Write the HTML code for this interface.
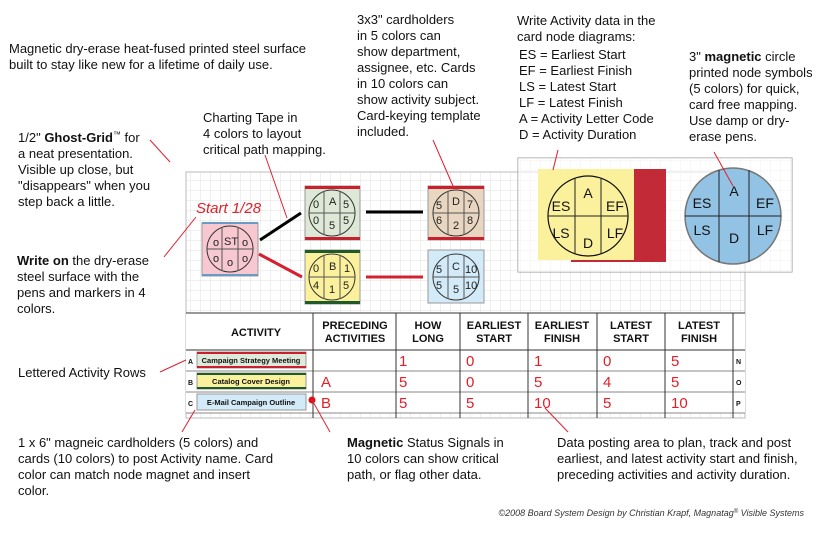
<!DOCTYPE html>
<html><head><meta charset="utf-8"><style>
body{margin:0;background:#fff;}
svg{display:block;font-family:"Liberation Sans",Arial,sans-serif;}
.t{font-size:13px;fill:#111;}
.h{font-family:"Liberation Sans",sans-serif;font-size:15px;fill:#e0202a;}
.n{font-size:11px;fill:#222;}
.hd{font-size:11px;font-weight:bold;fill:#111;}
.rl{stroke:#e02030;stroke-width:1;}
</style></head><body>
<svg width="825" height="540" viewBox="0 0 825 540" xmlns="http://www.w3.org/2000/svg">
<defs>
<pattern id="g" width="10" height="10" patternUnits="userSpaceOnUse">
<path d="M10 0H0V10" fill="none" stroke="#e2e2e2" stroke-width="1"/>
</pattern>
</defs>
<rect x="186" y="172" width="559" height="246" fill="url(#g)" stroke="#bbb"/>
<line x1="260" y1="240" x2="301" y2="213" stroke="#000" stroke-width="3"/>
<line x1="259" y1="254" x2="302" y2="277" stroke="#d52030" stroke-width="3"/>
<line x1="366" y1="212" x2="423" y2="212" stroke="#000" stroke-width="3"/>
<line x1="366" y1="277" x2="423" y2="277" stroke="#d52030" stroke-width="3"/>
<g>
<rect x="202" y="223" width="56" height="53" fill="#f7c8d0" stroke="#999"/>
<rect x="202" y="222" width="56" height="2" fill="#6a9ac8"/><rect x="202" y="274" width="56" height="2" fill="#6a9ac8"/>
<circle cx="230" cy="249" r="23" fill="none" stroke="#333"/>
<line x1="207" y1="249" x2="253" y2="249" stroke="#555"/><line x1="222" y1="227" x2="222" y2="271" stroke="#555"/><line x1="238" y1="227" x2="238" y2="271" stroke="#555"/>
<text class="n" x="224" y="245">ST</text><text class="n" x="213" y="246">o</text><text class="n" x="242" y="246">o</text><text class="n" x="213" y="262">o</text><text class="n" x="227" y="266">o</text><text class="n" x="242" y="262">o</text>
</g>
<g>
<rect x="305" y="186" width="55" height="54" fill="#dde8d6" stroke="#999"/>
<rect x="305" y="186" width="55" height="3" fill="#c8202c"/><rect x="305" y="237" width="55" height="3" fill="#c8202c"/>
<circle cx="332" cy="213" r="23" fill="none" stroke="#333"/>
<line x1="309" y1="213" x2="355" y2="213" stroke="#555"/><line x1="324" y1="191" x2="324" y2="235" stroke="#555"/><line x1="340" y1="191" x2="340" y2="235" stroke="#555"/>
<text class="n" x="329" y="205">A</text><text class="n" x="313" y="208">0</text><text class="n" x="343" y="208">5</text><text class="n" x="313" y="224">0</text><text class="n" x="329" y="229">5</text><text class="n" x="343" y="224">5</text>
</g>
<g>
<rect x="305" y="250" width="55" height="54" fill="#fbf19c" stroke="#999"/>
<rect x="305" y="250" width="55" height="3" fill="#1f5a2a"/><rect x="305" y="301" width="55" height="3" fill="#1f5a2a"/>
<circle cx="332" cy="277" r="23" fill="none" stroke="#333"/>
<line x1="309" y1="277" x2="355" y2="277" stroke="#555"/><line x1="324" y1="255" x2="324" y2="299" stroke="#555"/><line x1="340" y1="255" x2="340" y2="299" stroke="#555"/>
<text class="n" x="329" y="270">B</text><text class="n" x="313" y="272">0</text><text class="n" x="344" y="272">1</text><text class="n" x="313" y="289">4</text><text class="n" x="329" y="293">1</text><text class="n" x="343" y="289">5</text>
</g>
<g>
<rect x="428" y="186" width="56" height="54" fill="#e8d6c0" stroke="#999"/>
<rect x="428" y="186" width="56" height="3" fill="#c8202c"/><rect x="428" y="237" width="56" height="3" fill="#c8202c"/>
<circle cx="456" cy="213" r="23" fill="none" stroke="#333"/>
<line x1="433" y1="213" x2="479" y2="213" stroke="#555"/><line x1="448" y1="191" x2="448" y2="235" stroke="#555"/><line x1="464" y1="191" x2="464" y2="235" stroke="#555"/>
<text class="n" x="452" y="205">D</text><text class="n" x="436" y="209">5</text><text class="n" x="467" y="208">7</text><text class="n" x="436" y="224">6</text><text class="n" x="453" y="229">2</text><text class="n" x="467" y="224">8</text>
</g>
<g>
<rect x="428" y="250" width="56" height="53" fill="#d3eaf8" stroke="#999"/>
<circle cx="456" cy="277" r="23" fill="none" stroke="#333"/>
<line x1="433" y1="277" x2="479" y2="277" stroke="#555"/><line x1="448" y1="255" x2="448" y2="299" stroke="#555"/><line x1="464" y1="255" x2="464" y2="299" stroke="#555"/>
<text class="n" x="452" y="270">C</text><text class="n" x="436" y="273">5</text><text class="n" x="465" y="273" font-size="10">10</text><text class="n" x="436" y="289">5</text><text class="n" x="453" y="293">5</text><text class="n" x="465" y="289" font-size="10">10</text>
</g>
<text x="196" y="213" font-size="15" fill="#e0202a" font-style="italic">Start 1/28</text>
<rect x="186" y="313" width="559" height="100" fill="#fff"/>
<g stroke="#333" stroke-width="1">
<line x1="186" y1="313" x2="745" y2="313"/>
<line x1="186" y1="350" x2="745" y2="350"/>
<line x1="186" y1="371" x2="745" y2="371" stroke="#888"/>
<line x1="186" y1="392" x2="745" y2="392" stroke="#888"/>
<line x1="186" y1="413" x2="745" y2="413" stroke="#888"/>
<line x1="313" y1="313" x2="313" y2="418"/>
<line x1="396" y1="313" x2="396" y2="418"/>
<line x1="460" y1="313" x2="460" y2="418"/>
<line x1="528" y1="313" x2="528" y2="418"/>
<line x1="597" y1="313" x2="597" y2="418"/>
<line x1="665" y1="313" x2="665" y2="418"/>
<line x1="733" y1="313" x2="733" y2="418"/>
</g>
<g class="hd" text-anchor="middle">
<text x="256" y="336">ACTIVITY</text>
<text x="355" y="329">PRECEDING</text><text x="355" y="342">ACTIVITIES</text>
<text x="428" y="329">HOW</text><text x="428" y="342">LONG</text>
<text x="494" y="329">EARLIEST</text><text x="494" y="342">START</text>
<text x="562" y="329">EARLIEST</text><text x="562" y="342">FINISH</text>
<text x="631" y="329">LATEST</text><text x="631" y="342">START</text>
<text x="699" y="329">LATEST</text><text x="699" y="342">FINISH</text>
</g>
<g font-size="7" font-weight="bold" fill="#111">
<text x="188" y="364">A</text><text x="188" y="385">B</text><text x="188" y="406">C</text>
<text x="736" y="364">N</text><text x="736" y="385">O</text><text x="736" y="406">P</text>
</g>
<rect x="197" y="352" width="109" height="16" fill="#dfe9da" stroke="#999"/><rect x="197" y="352" width="109" height="2" fill="#c8202c"/><rect x="197" y="366" width="109" height="2" fill="#c8202c"/>
<rect x="197" y="373" width="109" height="16" fill="#fbf19c" stroke="#999"/><rect x="197" y="373" width="109" height="2" fill="#1f5a2a"/><rect x="197" y="387" width="109" height="2" fill="#1f5a2a"/>
<rect x="197" y="394" width="109" height="16" fill="#d3eaf8" stroke="#999"/>
<g font-size="7.5" font-weight="bold" fill="#111" text-anchor="middle">
<text x="251" y="363">Campaign Strategy Meeting</text>
<text x="251" y="384">Catalog Cover Design</text>
<text x="251" y="405">E-Mail Campaign Outline</text>
</g>
<circle cx="312" cy="400" r="3.5" fill="#e0101a"/>
<g class="h">
<text x="399" y="366">1</text><text x="466" y="366">0</text><text x="534" y="366">1</text><text x="603" y="366">0</text><text x="671" y="366">5</text>
<text x="321" y="387">A</text><text x="399" y="387">5</text><text x="466" y="387">0</text><text x="534" y="387">5</text><text x="603" y="387">4</text><text x="671" y="387">5</text>
<text x="321" y="408">B</text><text x="399" y="408">5</text><text x="466" y="408">5</text><text x="534" y="408">10</text><text x="603" y="408">5</text><text x="671" y="408">10</text>
</g>
<rect x="518" y="158" width="274" height="114" fill="url(#g)" stroke="#999"/>
<rect x="518" y="158" width="274" height="114" fill="#fff" fill-opacity="0.55"/>
<rect x="571" y="169" width="95" height="93" fill="#c22a38"/>
<rect x="538" y="169" width="96" height="91" fill="#fbf19c"/>
<circle cx="588" cy="216" r="40" fill="none" stroke="#111" stroke-width="1.2"/>
<line x1="548" y1="216" x2="628" y2="216" stroke="#222"/><line x1="575" y1="178" x2="575" y2="254" stroke="#222"/><line x1="601" y1="178" x2="601" y2="254" stroke="#222"/>
<circle cx="733" cy="216" r="48" fill="#93c3e4" stroke="#777" stroke-width="1.5"/>
<line x1="685" y1="216" x2="781" y2="216" stroke="#222"/><line x1="719" y1="170" x2="719" y2="262" stroke="#222"/><line x1="749" y1="170" x2="749" y2="262" stroke="#222"/>
<g font-size="14" fill="#111" text-anchor="middle">
<text x="588" y="198">A</text><text x="561" y="211">ES</text><text x="615" y="211">EF</text><text x="561" y="238">LS</text><text x="615" y="238">LF</text><text x="588" y="248">D</text>
<text x="734" y="196">A</text><text x="702" y="208">ES</text><text x="765" y="208">EF</text><text x="702" y="235">LS</text><text x="765" y="235">LF</text><text x="734" y="243">D</text>
</g>
<g class="rl">
<line x1="150" y1="140" x2="170" y2="162"/>
<line x1="164" y1="257" x2="196" y2="217"/>
<line x1="265" y1="155" x2="287" y2="218"/>
<line x1="433" y1="140" x2="453" y2="186"/>
<line x1="558" y1="150" x2="553" y2="170"/>
<line x1="714" y1="152" x2="733" y2="186"/>
<line x1="160" y1="372" x2="186" y2="360"/>
<line x1="182" y1="432" x2="195" y2="410"/>
<line x1="312" y1="400" x2="330" y2="432"/>
<line x1="568" y1="432" x2="545" y2="408"/>
</g>
<g class="t">
<text x="9" y="53">Magnetic dry-erase heat-fused printed steel surface</text>
<text x="9" y="69">built to stay like new for a lifetime of daily use.</text>
<text x="18" y="142">1/2" <tspan font-weight="bold">Ghost-Grid</tspan><tspan font-size="8" dy="-5">™</tspan><tspan dy="5"> for</tspan></text>
<text x="18" y="158">a neat presentation.</text>
<text x="18" y="174">Visible up close, but</text>
<text x="18" y="190">"disappears" when you</text>
<text x="18" y="206">step back a little.</text>
<text x="203" y="122">Charting Tape in</text>
<text x="203" y="138">4 colors to layout</text>
<text x="203" y="154">critical path mapping.</text>
<text x="357" y="24">3x3" cardholders</text>
<text x="357" y="40">in 5 colors can</text>
<text x="357" y="56">show department,</text>
<text x="357" y="72">assignee, etc.  Cards</text>
<text x="357" y="88">in 10 colors can</text>
<text x="357" y="104">show activity subject.</text>
<text x="357" y="120">Card-keying template</text>
<text x="357" y="136">included.</text>
<text x="517" y="25">Write Activity data in the</text>
<text x="517" y="41">card node diagrams:</text>
<text x="519" y="59">ES = Earliest Start</text>
<text x="519" y="75">EF = Earliest Finish</text>
<text x="519" y="91">LS = Latest Start</text>
<text x="519" y="107">LF = Latest Finish</text>
<text x="519" y="123">A = Activity Letter Code</text>
<text x="519" y="139">D = Activity Duration</text>
<text x="689" y="61">3" <tspan font-weight="bold">magnetic</tspan> circle</text>
<text x="689" y="77">printed node symbols</text>
<text x="689" y="93">(5 colors) for quick,</text>
<text x="689" y="109">card free mapping.</text>
<text x="689" y="125">Use damp or dry-</text>
<text x="689" y="141">erase pens.</text>
<text x="17" y="265"><tspan font-weight="bold">Write on</tspan> the dry-erase</text>
<text x="17" y="281">steel surface with the</text>
<text x="17" y="297">pens and markers in 4</text>
<text x="17" y="313">colors.</text>
<text x="18" y="377">Lettered Activity Rows</text>
<text x="18" y="447">1 x 6" magneic cardholders (5 colors) and</text>
<text x="18" y="463">cards (10 colors) to post Activity name.  Card</text>
<text x="18" y="479">color can match node magnet and insert</text>
<text x="18" y="495">color.</text>
<text x="347" y="447"><tspan font-weight="bold">Magnetic</tspan> Status Signals in</text>
<text x="347" y="463">10 colors can show critical</text>
<text x="347" y="479">path, or flag other data.</text>
<text x="557" y="447">Data posting area to plan, track and post</text>
<text x="557" y="463">earliest, and latest activity start and finish,</text>
<text x="557" y="479">preceding activities and activity duration.</text>
</g>
<text x="804" y="516" font-size="9" font-style="italic" fill="#333" text-anchor="end">©2008 Board System Design by Christian Krapf, Magnatag<tspan font-size="6" dy="-3">®</tspan><tspan dy="3"> Visible Systems</tspan></text>
</svg>
</body></html>
